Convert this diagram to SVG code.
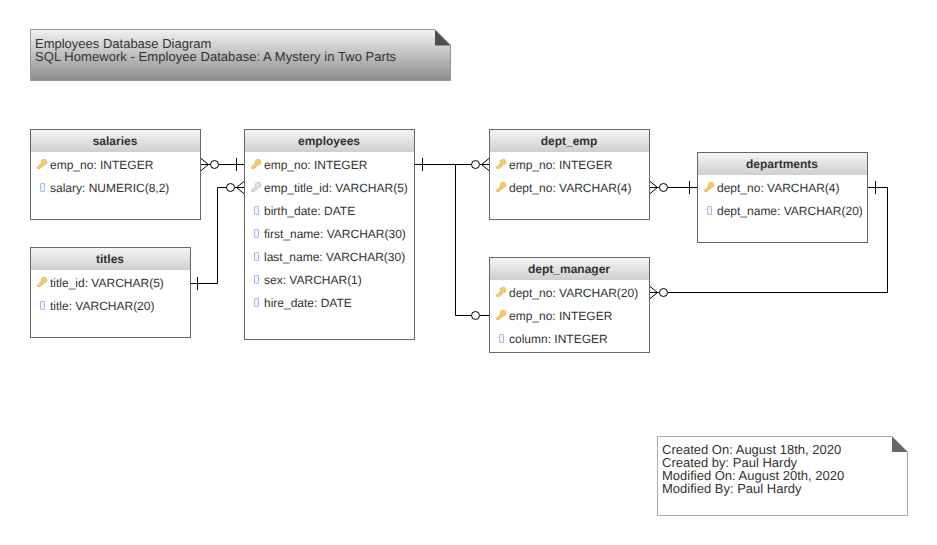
<svg xmlns="http://www.w3.org/2000/svg" width="937" height="545" viewBox="0 0 937 545">
<style>
text{font-family:"Liberation Sans",Arial,sans-serif;font-size:12px;fill:#333;text-rendering:geometricPrecision}
.t{font-weight:bold;text-anchor:middle;font-size:12px}
.box{fill:#fff;stroke:#666;stroke-width:1}
.hd{fill:url(#hg)}
.ln{fill:none;stroke:#000;stroke-width:1}
.c{fill:#fff;stroke:#000;stroke-width:1}
text.note{font-size:13px}
</style>
<defs>
<linearGradient id="hg" x1="0" y1="0" x2="0" y2="1"><stop offset="0" stop-color="#f5f5f5"/><stop offset="1" stop-color="#cfcfcf"/></linearGradient>
<linearGradient id="ng" x1="0" y1="0" x2="0" y2="1"><stop offset="0" stop-color="#f2f2f2"/><stop offset="1" stop-color="#8c8c8c"/></linearGradient>
<g id="key"><path d="M0 8.500 L4.500 4.200 A2.800 2.800 0 1 1 7.500 5.800 L3 9.500 L0.700 9.500 Z" fill="#f7cc66" stroke="#d6a545" stroke-width=".6"/></g>
<g id="gkey"><path d="M0 8.500 L4.500 4.200 A2.800 2.800 0 1 1 7.500 5.800 L3 9.500 L0.700 9.500 Z" fill="#e2e2e2" stroke="#aaa" stroke-width=".6"/></g>
<rect id="col" width="4" height="8" rx=".5" fill="#eef3fd" stroke="#a3bcef" stroke-width="1"/>
</defs>

<g id="note-title">
<path d="M30.500 29.500H435L450.500 45V80.500H30.500Z" fill="url(#ng)" stroke="#999"/>
<path d="M435 30L450.500 45.500H435Z" fill="#4d4d4d"/>
<text class="note"><tspan x="35" y="48">Employees Database Diagram</tspan><tspan x="35" y="61" letter-spacing="0.05">SQL Homework - Employee Database: A Mystery in Two Parts</tspan></text>
</g>

<g id="connectors">
<path class="ln" d="M200.500 158L208.500 164.500L200.500 171M200.500 164.500H210M218.500 164.500H244M236.500 158V171"/>
<circle class="c" cx="214.500" cy="164.500" r="4"/>
<path class="ln" d="M190.500 283.500H217.500V187.500H227M244.500 181L236.500 187.500L244.500 194M234.500 187.500H244M197.500 277V290"/>
<circle class="c" cx="230.500" cy="187.500" r="4"/>
<path class="ln" d="M414.500 164.500H472M422.500 158V171M489.500 158L481.500 164.500L489.500 171M479.500 164.500H489.500"/>
<circle class="c" cx="475.500" cy="164.500" r="4"/>
<path class="ln" d="M455.500 164.500V315.500H472M479.500 315.500H489.500"/>
<circle class="c" cx="475.500" cy="315.500" r="4"/>
<path class="ln" d="M649.500 181L657.500 187.500L649.500 194M649.500 187.500H659M667.500 187.500H697.500M689.500 181V194"/>
<circle class="c" cx="663.500" cy="187.500" r="4"/>
<path class="ln" d="M867.500 187.500H887.500V292.500H668M875.500 181V194M649.500 286L657.500 292.500L649.500 299M649.500 292.500H659"/>
<circle class="c" cx="663.500" cy="292.500" r="4"/>
</g>

<g id="salaries">
<rect class="box" x="30.500" y="129.500" width="170" height="90"/>
<rect class="hd" x="31" y="130" width="169" height="22"/>
<text class="t" x="115" y="145">salaries</text>
<use href="#key" x="37" y="159"/><text x="50" y="169">emp_no: INTEGER</text>
<use href="#col" x="40.500" y="183.500"/><text x="50" y="192">salary: NUMERIC(8,2)</text>
</g>

<g id="titles">
<rect class="box" x="30.500" y="247.500" width="160" height="90"/>
<rect class="hd" x="31" y="248" width="159" height="22"/>
<text class="t" x="110" y="263">titles</text>
<use href="#key" x="37" y="277"/><text x="50" y="287">title_id: VARCHAR(5)</text>
<use href="#col" x="40.500" y="301.500"/><text x="50" y="310">title: VARCHAR(20)</text>
</g>

<g id="employees">
<rect class="box" x="244.500" y="129.500" width="170" height="210"/>
<rect class="hd" x="245" y="130" width="169" height="22"/>
<text class="t" x="329" y="145">employees</text>
<use href="#key" x="251" y="159"/><text x="264" y="169">emp_no: INTEGER</text>
<use href="#gkey" x="251" y="182"/><text x="264" y="192">emp_title_id: VARCHAR(5)</text>
<use href="#col" x="254.500" y="206.500"/><text x="264" y="215">birth_date: DATE</text>
<use href="#col" x="254.500" y="229.500"/><text x="264" y="238">first_name: VARCHAR(30)</text>
<use href="#col" x="254.500" y="252.500"/><text x="264" y="261">last_name: VARCHAR(30)</text>
<use href="#col" x="254.500" y="275.500"/><text x="264" y="284">sex: VARCHAR(1)</text>
<use href="#col" x="254.500" y="298.500"/><text x="264" y="307">hire_date: DATE</text>
</g>

<g id="dept_emp">
<rect class="box" x="489.500" y="129.500" width="160" height="90"/>
<rect class="hd" x="490" y="130" width="159" height="22"/>
<text class="t" x="569" y="145">dept_emp</text>
<use href="#key" x="496" y="159"/><text x="509" y="169">emp_no: INTEGER</text>
<use href="#key" x="496" y="182"/><text x="509" y="192">dept_no: VARCHAR(4)</text>
</g>

<g id="departments">
<rect class="box" x="697.500" y="152.500" width="170" height="90"/>
<rect class="hd" x="698" y="153" width="169" height="22"/>
<text class="t" x="782" y="168">departments</text>
<use href="#key" x="704" y="182"/><text x="717" y="192">dept_no: VARCHAR(4)</text>
<use href="#col" x="707.500" y="206.500"/><text x="717" y="215">dept_name: VARCHAR(20)</text>
</g>

<g id="dept_manager">
<rect class="box" x="489.500" y="257.500" width="160" height="95"/>
<rect class="hd" x="490" y="258" width="159" height="22"/>
<text class="t" x="569" y="273">dept_manager</text>
<use href="#key" x="496" y="287"/><text x="509" y="297">dept_no: VARCHAR(20)</text>
<use href="#key" x="496" y="310"/><text x="509" y="320">emp_no: INTEGER</text>
<use href="#col" x="499.500" y="334.500"/><text x="509" y="343">column: INTEGER</text>
</g>

<g id="note-info">
<path d="M657.500 436.500H892L907.500 452V515.500H657.500Z" fill="#fff" stroke="#aaa"/>
<path d="M892 436.500L907.500 452H892Z" fill="#666"/>
<text class="note"><tspan x="662" y="454">Created On: August 18th, 2020</tspan><tspan x="662" y="467">Created by: Paul Hardy</tspan><tspan x="662" y="480">Modified On: August 20th, 2020</tspan><tspan x="662" y="493">Modified By: Paul Hardy</tspan></text>
</g>
</svg>
